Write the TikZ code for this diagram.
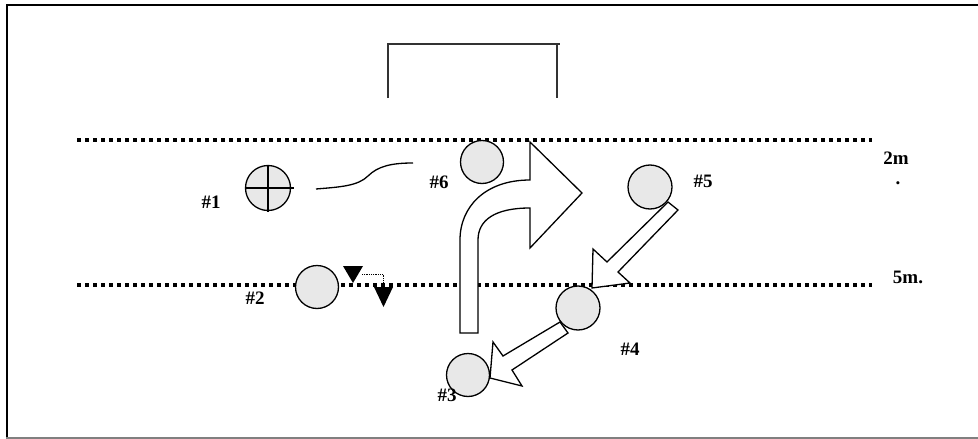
\documentclass[tikz,border=0pt]{standalone}
\usepackage{fontspec}
\setmainfont{Liberation Serif}
\usetikzlibrary{arrows.meta}
\begin{document}
\begin{tikzpicture}[x=1pt,y=-1pt,
  player/.style={circle,draw=black,fill=gray!18,line width=1.3pt,minimum size=43pt,inner sep=0pt},
  lbl/.style={font=\fontsize{19}{21}\selectfont\bfseries,inner sep=0pt},
  blockarrow/.style={draw=black,fill=white,line width=1.3pt,line join=miter},
  dotline/.style={line width=3.2pt,dash pattern=on 3.6pt off 4.4pt},
  goalline/.style={line width=2.5pt,black!80},
  marker/.style={fill=black}]
\useasboundingbox (0,0) rectangle (978,439);
% frame
\draw[line width=2.8pt] (7,439) -- (7,5) -- (978,5);
\draw[gray,line width=1.5pt] (6,438) -- (978,438);
% goal
\coordinate (gl) at (388,98);
\coordinate (gtl) at (388,44);
\coordinate (gtr) at (560,44);
\coordinate (gr) at (557,98);
\draw[goalline] (gl) -- (gtl) -- (gtr);
\draw[goalline] (557,44) -- (gr);
% dotted lines
\coordinate (d2a) at (77,140);
\coordinate (d2b) at (872,140);
\coordinate (d5a) at (77,285);
\coordinate (d5b) at (872,285);
\draw[dotline] (d2a) -- (d2b);
\draw[dotline] (d5a) -- (d5b);
% U-turn arrow
\draw[blockarrow] (460,333) -- (460,240) .. controls (460,207) and (485,180) .. (530,180)
  -- (530,142) -- (582,193) -- (530,248) -- (530,208)
  .. controls (495,208) and (478,220) .. (478,240) -- (478,333) -- cycle;
% arrow 5 -> 4
\draw[blockarrow] (668,202) -- (678,210) -- (618,272) -- (630,283) -- (592,288)
  -- (593,249) -- (607,262) -- cycle;
% arrow 4 -> 3
\draw[blockarrow] (560,322) -- (503,356) -- (493,342) -- (490,378) -- (522,386)
  -- (512,370) -- (568,333) -- cycle;
% players
\node[player,minimum size=45pt] (p1) at (268,188) {};
\node[player] (p2) at (317,287) {};
\node[player] (p6) at (482,162) {};
\node[player,minimum size=44pt] (p5) at (650,187) {};
\node[player,minimum size=44pt] (p4) at (578,308) {};
\node[player] (p3) at (468,375) {};
% crosshair on #1
\draw[line width=1.3pt] (p1.west) -- ([xshift=3pt]p1.east);
\draw[line width=1.3pt] (p1.north) -- ([yshift=-1pt]p1.south);
% curvy line
\coordinate (c1) at (316,189);
\coordinate (c2) at (413,163);
\draw[line width=1.3pt] (c1) .. controls (340,187) and (358,186) .. (368,176)
  .. controls (378,166) and (392,163) .. (c2);
% markers
\coordinate (t1) at (353,283);
\coordinate (t2) at (383.5,307);
\fill[marker] (343,266) -- (363,266) -- (t1) -- cycle;
\fill[marker] (374,287) -- (393,287) -- (t2) -- cycle;
\coordinate (m1) at (362,274);
\coordinate (m2) at (383,286);
\draw[densely dotted,line width=0.8pt,-{Stealth[length=3pt,width=3pt]}] (m1) -| (m2);
% labels
\node[lbl] (l1) at (211,202) {\#1};
\node[lbl] (l2) at (255,298) {\#2};
\node[lbl] (l6) at (439,182) {\#6};
\node[lbl] (l5) at (703,181) {\#5};
\node[lbl] (l4) at (630,349) {\#4};
\node[lbl] (l3) at (447,395) {\#3};
\node[lbl] (l2m) at (896,158) {2m};
\node[lbl] (ldot) at (898,183) {.};
\node[lbl] (l5m) at (908,277) {5m.};
\end{tikzpicture}
\end{document}
